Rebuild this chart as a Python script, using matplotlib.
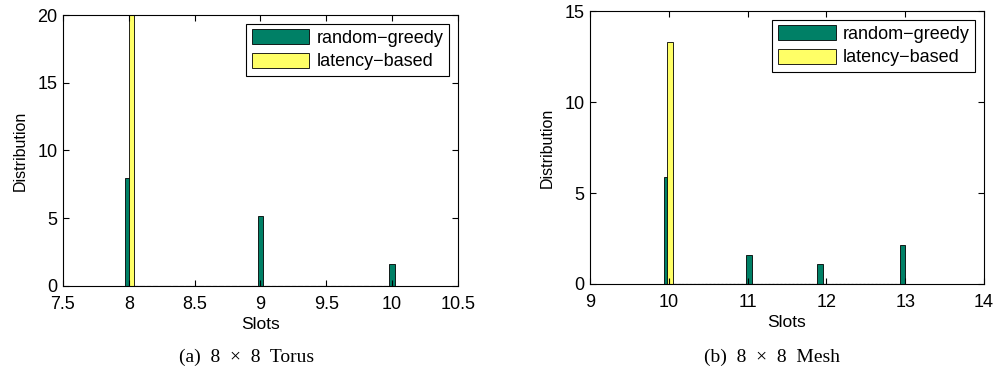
import numpy as np
import matplotlib.pyplot as plt

# histogram data
torus_greedy_x = [7.993, 9.0, 10.0]
torus_greedy = [8.0, 5.17, 1.62]
torus_latency_x = [8.02]
torus_latency = [20.0]

mesh_greedy_x = [9.975, 11.02, 11.92, 12.965]
mesh_greedy = [5.86, 1.59, 1.08, 2.14]
mesh_latency_x = [10.015]
mesh_latency = [13.3]

# empty bins between the first and last slot (zero height)
torus_empty = np.arange(8.05, 10.0, 0.05)
mesh_empty = np.arange(10.05, 13.0, 0.05)

green = '#008066'
yellow = '#ffff66'
plt.rcParams['font.family'] = ['Liberation Sans', 'DejaVu Sans']


def draw(ax, gx, gy, lx, ly, empty, w, xlim, xticks, ylim, yticks):
    ax.bar(empty, np.zeros(len(empty)), w, color=yellow, edgecolor='black',
           linewidth=0.8)
    ax.bar(gx, gy, w, color=green, edgecolor='black', linewidth=0.6,
           label='random\u2212greedy')
    ax.bar(lx, ly, w, color=yellow, edgecolor='black', linewidth=0.6,
           label='latency\u2212based')
    ax.set_xlim(*xlim)
    ax.set_ylim(*ylim)
    ax.set_xticks(xticks)
    ax.set_xticklabels([('%g' % t) for t in xticks])
    ax.set_yticks(yticks)
    ax.tick_params(direction='in', top=True, right=True, length=4,
                   labelsize=13)
    ax.tick_params(axis='x', pad=7)
    ax.tick_params(axis='y', pad=4)
    ax.set_xlabel('Slots', fontsize=12.5, labelpad=3)
    ax.set_ylabel('Distribution', fontsize=11.5, labelpad=7)
    leg = ax.legend(loc='upper right', fontsize=13, fancybox=False,
                    edgecolor='black', framealpha=1, handlelength=3.2,
                    handleheight=0.9, borderpad=0.3, labelspacing=0.3,
                    handletextpad=0.4, borderaxespad=0.5)
    leg.get_frame().set_linewidth(0.8)


fig = plt.figure(figsize=(9.95, 3.76), dpi=100)
ax1 = fig.add_axes([0.0633, 0.2394, 0.397, 0.7207])
ax2 = fig.add_axes([0.593, 0.2447, 0.396, 0.726])

draw(ax1, torus_greedy_x, torus_greedy, torus_latency_x, torus_latency,
     torus_empty, 0.043, (7.5, 10.5), [7.5, 8, 8.5, 9, 9.5, 10, 10.5],
     (0, 20), [0, 5, 10, 15, 20])
draw(ax2, mesh_greedy_x, mesh_greedy, mesh_latency_x, mesh_latency,
     mesh_empty, 0.071, (9, 14), [9, 10, 11, 12, 13, 14],
     (0, 15), [0, 5, 10, 15])

serif = ['Liberation Serif', 'DejaVu Serif']
fig.text(0.248, 0.05, '(a)  8  \u00d7  8  Torus', ha='center', va='center',
         fontsize=14, family=serif)
fig.text(0.776, 0.05, '(b)  8  \u00d7  8  Mesh', ha='center', va='center',
         fontsize=14, family=serif)

fig.savefig('out.png', dpi=100)
